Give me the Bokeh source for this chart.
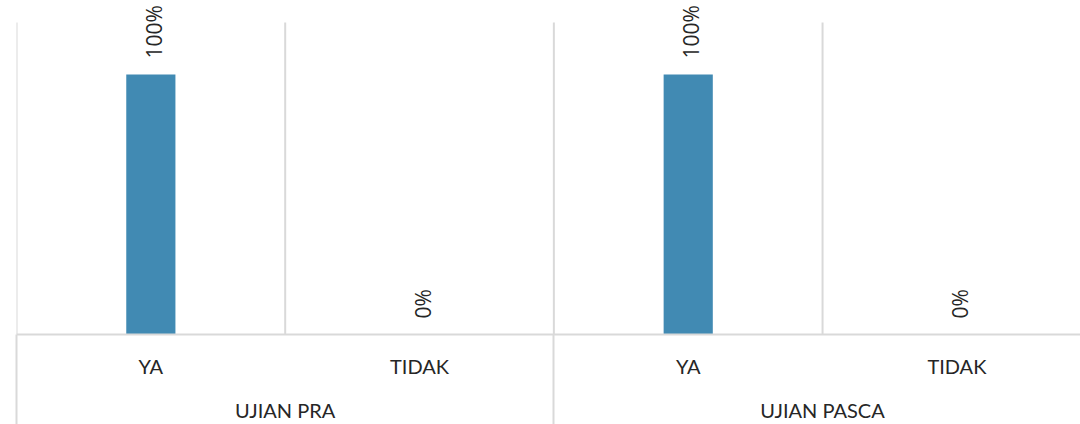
import math
from bokeh.plotting import figure
from bokeh.models import ColumnDataSource, Range1d, LinearAxis, FixedTicker
from bokeh.core.properties import value
from bokeh.embed import file_html
from bokeh.resources import INLINE

# ---- data ----
groups = ["UJIAN PRA", "UJIAN PASCA"]
answers = ["YA", "TIDAK"]
values = [100, 0, 100, 0]
value_labels = ["100%", "0%", "100%", "0%"]
y_axis_max = 120

# ---- derived positions (one unit per category) ----
n_ans = len(answers)
n_cat = len(groups) * n_ans
centers = [i + 0.5 for i in range(n_cat)]
cat_labels = [a for g in groups for a in answers]
group_centers = [g * n_ans + n_ans // 2 for g in range(len(groups))]
boundaries = list(range(n_cat))
group_bounds = [g * n_ans for g in range(len(groups))]

BAR_COLOR = "#418ab3"
LINE_COLOR = "#d9d9d9"
TEXT_COLOR = "#262626"

p = figure(width=1080, height=424,
           x_range=Range1d(0, 3.96), y_range=Range1d(0, 128.46),
           output_backend="svg", toolbar_location=None,
           x_axis_location=None, y_axis_location=None,
           min_border_left=16, min_border_right=0,
           min_border_top=0, min_border_bottom=90)
p.outline_line_color = None
p.background_fill_color = "white"
p.border_fill_color = "white"
p.grid.grid_line_color = None

# vertical separators inside the plot area
sep = ColumnDataSource(dict(x=boundaries, y0=[0] * len(boundaries),
                            y1=[y_axis_max] * len(boundaries)))
p.segment(x0="x", y0="y0", x1="x", y1="y1", source=sep,
          line_color=LINE_COLOR, line_width=2)

src = ColumnDataSource(dict(x=centers, top=values, lab=value_labels))
p.vbar(x="x", top="top", width=0.183, source=src,
       fill_color=BAR_COLOR, line_color=None)

p.text(x="x", y="top", text="lab", source=src, angle=math.pi / 2,
       text_align="left", text_baseline="middle",
       x_offset=3, y_offset=-16,
       text_font=value("Open Sans"), text_font_size="21px",
       text_color=TEXT_COLOR)

# category axis (minor ticks = long group separators)
ax1 = LinearAxis(ticker=FixedTicker(ticks=centers, minor_ticks=group_bounds),
                 major_label_overrides={c: l for c, l in zip(centers, cat_labels)})
ax1.axis_line_color = LINE_COLOR
ax1.axis_line_width = 2
ax1.major_tick_line_color = None
ax1.major_tick_out = 0
ax1.major_tick_in = 0
ax1.minor_tick_line_color = LINE_COLOR
ax1.minor_tick_line_width = 2
ax1.minor_tick_in = 0
ax1.minor_tick_out = 92
ax1.major_label_standoff = -73
ax1.major_label_text_font = "Lato"
ax1.major_label_text_font_size = "20px"
ax1.major_label_text_color = TEXT_COLOR
p.add_layout(ax1, "below")

# group axis
ax2 = LinearAxis(ticker=FixedTicker(ticks=group_centers, minor_ticks=[]),
                 major_label_overrides={c: l for c, l in zip(group_centers, groups)})
ax2.axis_line_color = None
ax2.major_tick_line_color = None
ax2.minor_tick_line_color = None
ax2.major_tick_out = 0
ax2.major_tick_in = 0
ax2.major_label_standoff = 17
ax2.major_label_text_font = "Lato"
ax2.major_label_text_font_size = "20px"
ax2.major_label_text_color = TEXT_COLOR
p.add_layout(ax2, "below")

open("out.html", "w").write(file_html(p, INLINE))
